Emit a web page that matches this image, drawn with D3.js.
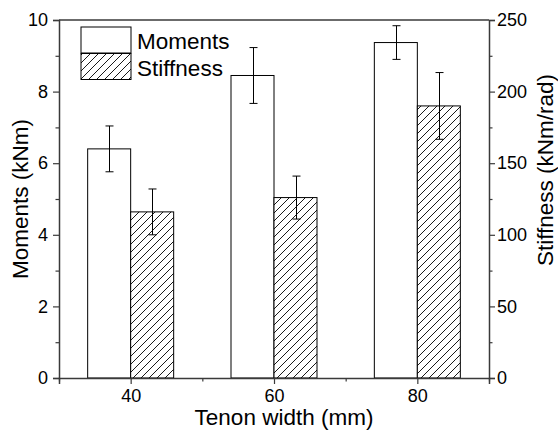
<!DOCTYPE html>
<html>
<head>
<meta charset="utf-8">
<script src="https://cdn.jsdelivr.net/npm/d3@7"></script>
<style>
  body { margin: 0; background: #fff; }
  svg text { font-family: "Liberation Sans", Arial, sans-serif; fill: #000; }
</style>
</head>
<body>
<svg id="chart" width="558" height="432"></svg>
<script>
// values
const widths = [40, 60, 80]
const moments = [6.40, 8.45, 9.37]
const momentsErr = [0.64, 0.78, 0.47]
const stiffness = [116, 126, 190]
const stiffnessErr = [16, 15, 23.3]
const leftTicks = [0, 2, 4, 6, 8, 10]
const rightTicks = [0, 50, 100, 150, 200, 250]
const seriesNames = ['Moments', 'Stiffness']

const margin = { left: 59, right: 69, top: 20, bottom: 54 }
const W = 558, H = 432
const pw = W - margin.left - margin.right
const ph = H - margin.top - margin.bottom

const svg = d3.select('#chart')

const defs = svg.append('defs')
const pat = defs.append('pattern')
  .attr('id', 'hatch')
  .attr('patternUnits', 'userSpaceOnUse')
  .attr('width', 8)
  .attr('height', 8)
pat.append('rect').attr('width', 8).attr('height', 8).attr('fill', '#fff')
pat.append('path')
  .attr('d', 'M-2,2 L2,-2 M0,8 L8,0 M6,10 L10,6')
  .attr('stroke', '#000')
  .attr('stroke-width', 0.9)

const g = svg.append('g').attr('transform', `translate(${margin.left},${margin.top})`)

const x = d3.scaleLinear().domain([30, 90]).range([0, pw])
const yL = d3.scaleLinear().domain([0, 10]).range([ph, 0])
const yR = d3.scaleLinear().domain([0, 250]).range([ph, 0])
const barW = 6

// bars
const bars = g.append('g').attr('class', 'bars')
bars.selectAll('rect.m')
  .data(widths)
  .enter()
  .append('rect')
  .attr('class', 'm')
  .attr('x', d => x(d - barW))
  .attr('width', x(barW) - x(0))
  .attr('y', (d, i) => yL(moments[i]))
  .attr('height', (d, i) => ph - yL(moments[i]))
  .attr('fill', '#fff')
  .attr('stroke', '#000')
  .attr('stroke-width', 1)

bars.selectAll('rect.s')
  .data(widths)
  .enter()
  .append('rect')
  .attr('class', 's')
  .attr('x', d => x(d))
  .attr('width', x(barW) - x(0))
  .attr('y', (d, i) => yR(stiffness[i]))
  .attr('height', (d, i) => ph - yR(stiffness[i]))
  .attr('fill', 'url(#hatch)')
  .attr('stroke', '#000')
  .attr('stroke-width', 1)

// error bars
function errBars(cls, cx, val, err, y) {
  const eg = g.append('g').attr('class', cls)
  widths.forEach((w, i) => {
    const xc = Math.round(x(cx(w))) + 0.5
    const y1 = y(val[i] + err[i]), y2 = y(val[i] - err[i])
    eg.append('line').attr('x1', xc).attr('x2', xc).attr('y1', y1).attr('y2', y2)
    eg.append('line').attr('x1', xc - 4).attr('x2', xc + 4).attr('y1', y1).attr('y2', y1)
    eg.append('line').attr('x1', xc - 4).attr('x2', xc + 4).attr('y1', y2).attr('y2', y2)
  })
  eg.selectAll('line').attr('stroke', '#000').attr('stroke-width', 1)
}
errBars('errM', w => w - barW / 2, moments, momentsErr, yL)
errBars('errS', w => w + barW / 2, stiffness, stiffnessErr, yR)

// axes
const axisColor = '#3a3a3a'
const leftAxis = g.append('g')
  .call(d3.axisLeft(yL).tickValues(d3.range(0, 10.5, 1)).tickSize(6).tickFormat(d => leftTicks.includes(d) ? d : ''))
const rightAxis = g.append('g')
  .attr('transform', `translate(${pw},0)`)
  .call(d3.axisRight(yR).tickValues(d3.range(0, 251, 25)).tickSize(6).tickFormat(d => rightTicks.includes(d) ? d : ''))
const bottomAxis = g.append('g')
  .attr('transform', `translate(0,${ph})`)
  .call(d3.axisBottom(x).tickValues(d3.range(30, 91, 10)).tickSize(6).tickFormat(d => widths.includes(d) ? d : ''))

;[leftAxis, rightAxis, bottomAxis].forEach(a => {
  a.select('.domain').attr('stroke', axisColor).attr('stroke-width', 1.5)
  a.selectAll('.tick line').attr('stroke', axisColor).attr('stroke-width', 1.2)
  a.selectAll('.tick text')
    .style('font-size', '18px')
    .style('font-family', '"Liberation Sans", Arial, sans-serif')
    .attr('fill', '#000')
})
// minor ticks shorter
leftAxis.selectAll('.tick').filter(d => !leftTicks.includes(d)).select('line').attr('x2', -3.5)
rightAxis.selectAll('.tick').filter(d => !rightTicks.includes(d)).select('line').attr('x2', 3.5)
bottomAxis.selectAll('.tick').filter(d => !widths.includes(d)).select('line').attr('y2', 3.5)
leftAxis.selectAll('.tick text').attr('x', -11)
rightAxis.selectAll('.tick text').attr('x', 8)
bottomAxis.selectAll('.tick text').attr('y', 11)

// top frame line
g.append('line')
  .attr('x1', 0).attr('x2', pw).attr('y1', 0).attr('y2', 0)
  .attr('stroke', axisColor).attr('stroke-width', 1.5)

// titles
svg.append('text')
  .attr('text-anchor', 'middle')
  .attr('transform', `translate(28,${margin.top + ph / 2}) rotate(-90)`)
  .style('font-size', '22.5px')
  .text('Moments (kNm)')
svg.append('text')
  .attr('text-anchor', 'middle')
  .attr('transform', `translate(553,170) rotate(-90)`)
  .style('font-size', '22.5px')
  .text('Stiffness (kNm/rad)')
svg.append('text')
  .attr('text-anchor', 'middle')
  .attr('x', 284)
  .attr('y', 425)
  .style('font-size', '22.5px')
  .text('Tenon width (mm)')

// legend
const lg = svg.append('g').attr('class', 'legend')
seriesNames.forEach((name, i) => {
  const top = 27 + i * 26.5
  lg.append('rect')
    .attr('x', 81).attr('y', top)
    .attr('width', 50).attr('height', 26)
    .attr('fill', i === 0 ? '#fff' : 'url(#hatch)')
    .attr('stroke', '#000').attr('stroke-width', 1)
  lg.append('text')
    .attr('x', 137).attr('y', top + 22)
    .style('font-size', '22.5px')
    .text(name)
})
</script>
</body>
</html>
